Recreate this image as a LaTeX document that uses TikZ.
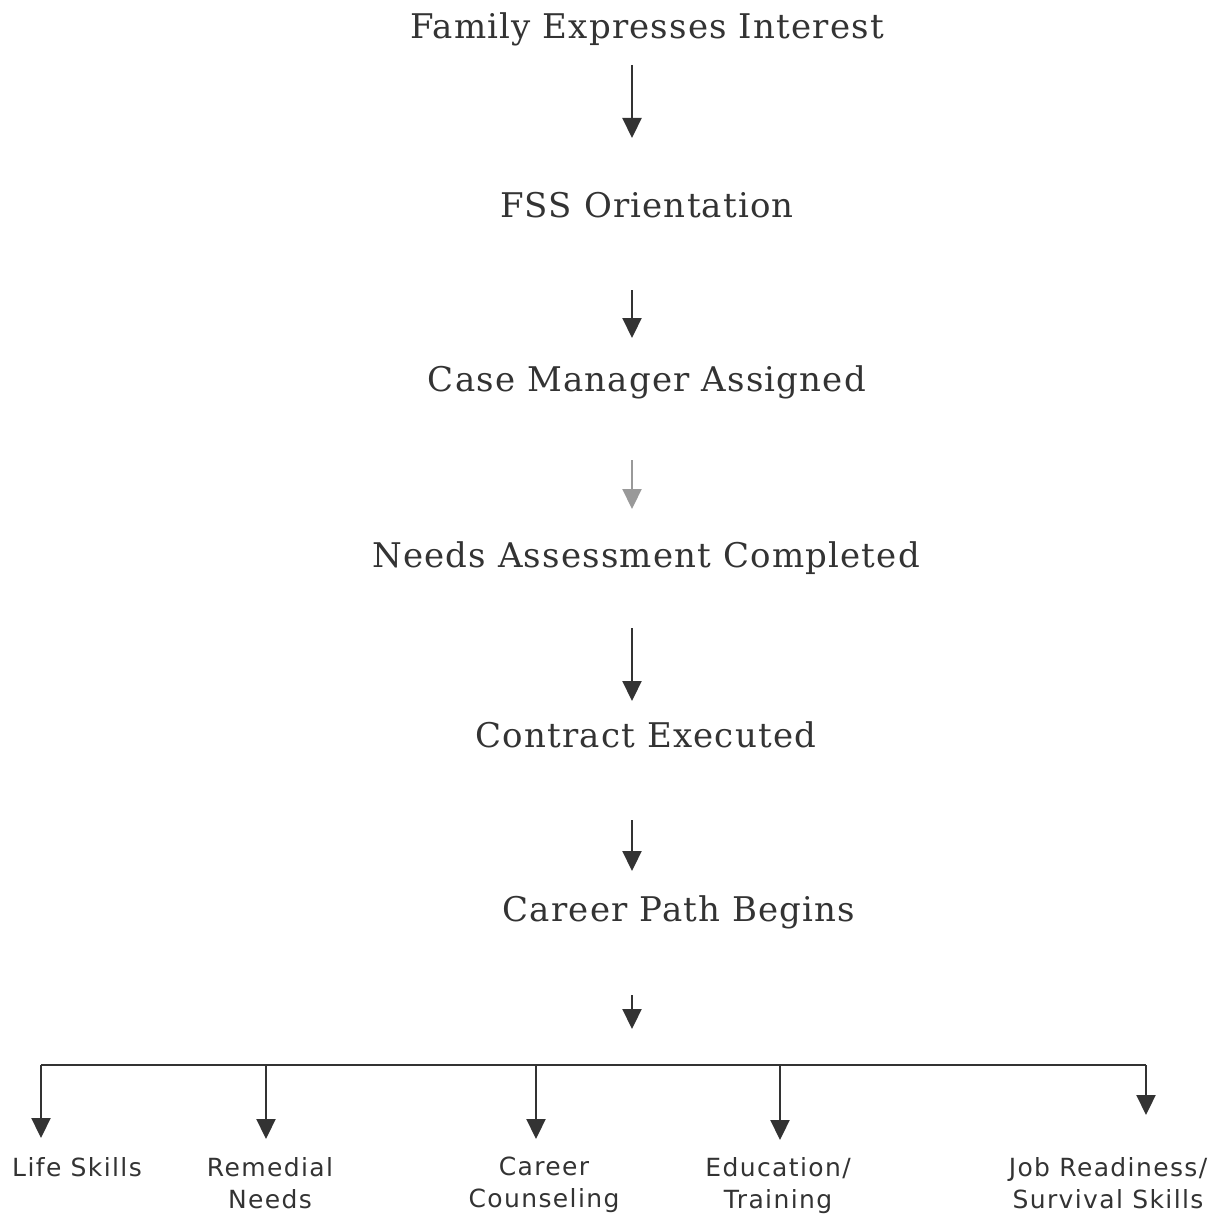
\documentclass[tikz,border=0pt]{standalone}
\usepackage{fontspec}
\setmainfont[LetterSpace=3.5]{DejaVu Serif}
\newfontfamily\verd[LetterSpace=5.5]{DejaVu Sans}
\usetikzlibrary{arrows.meta}
\definecolor{ink}{HTML}{333333}
\begin{document}
\begin{tikzpicture}[x=1pt,y=-1pt,
  stage/.style={inner sep=0pt,text=ink,font=\fontsize{34}{40}\selectfont},
  leaf/.style={inner sep=0pt,text=ink,align=center,font=\verd\fontsize{25}{32}\selectfont},
  flow/.style={draw=ink,line width=2.2pt,-{Triangle[length=20pt,width=19pt]}},
  branch/.style={draw=ink,line width=2.2pt}]
\useasboundingbox (0,0) rectangle (1217,1217);
\node[stage] (n1) at (647,29) {Family Expresses Interest};
\node[stage] (n2) at (647,205) {FSS Orientation};
\node[stage] (n3) at (647,382) {Case Manager Assigned};
\node[stage] (n4) at (646,558) {Needs Assessment Completed};
\node[stage] (n5) at (646,735) {Contract Executed};
\node[stage] (n6) at (679,912) {Career Path Begins};
\coordinate (a1s) at (632,65);  \coordinate (a1e) at (632,138);
\coordinate (a2s) at (632,290); \coordinate (a2e) at (632,338);
\coordinate (a3s) at (632,460); \coordinate (a3e) at (632,509);
\coordinate (a4s) at (632,628); \coordinate (a4e) at (632,701);
\coordinate (a5s) at (632,820); \coordinate (a5e) at (632,871);
\coordinate (a6s) at (632,995); \coordinate (a6e) at (632,1029);
\draw[flow] (a1s) -- (a1e);
\draw[flow] (a2s) -- (a2e);
\draw[flow,draw=gray!80] (a3s) -- (a3e);
\draw[flow] (a4s) -- (a4e);
\draw[flow] (a5s) -- (a5e);
\draw[flow] (a6s) -- (a6e);
\coordinate (hl) at (41,1065); \coordinate (hr) at (1146,1065);
\draw[branch] (hl) -- (hr);
\coordinate (b1) at (41,1065);  \coordinate (t1) at (41,1138);
\coordinate (b2) at (266,1065); \coordinate (t2) at (266,1139);
\coordinate (b3) at (536,1065); \coordinate (t3) at (536,1139);
\coordinate (b4) at (780,1065); \coordinate (t4) at (780,1140);
\coordinate (b5) at (1146,1065);\coordinate (t5) at (1146,1115);
\draw[flow] (b1) -- (t1);
\draw[flow] (b2) -- (t2);
\draw[flow] (b3) -- (t3);
\draw[flow] (b4) -- (t4);
\draw[flow] (b5) -- (t5);
\node[leaf,anchor=north] (l1) at (77,1157) {Life Skills};
\node[leaf,anchor=north] (l2) at (270,1157) {Remedial\\Needs};
\node[leaf,anchor=north] (l3) at (544,1157) {Career\\Counseling};
\node[leaf,anchor=north] (l4) at (778,1157) {Education/\\Training};
\node[leaf,anchor=north] (l5) at (1108,1157) {Job Readiness/\\Survival Skills};
\end{tikzpicture}
\end{document}
